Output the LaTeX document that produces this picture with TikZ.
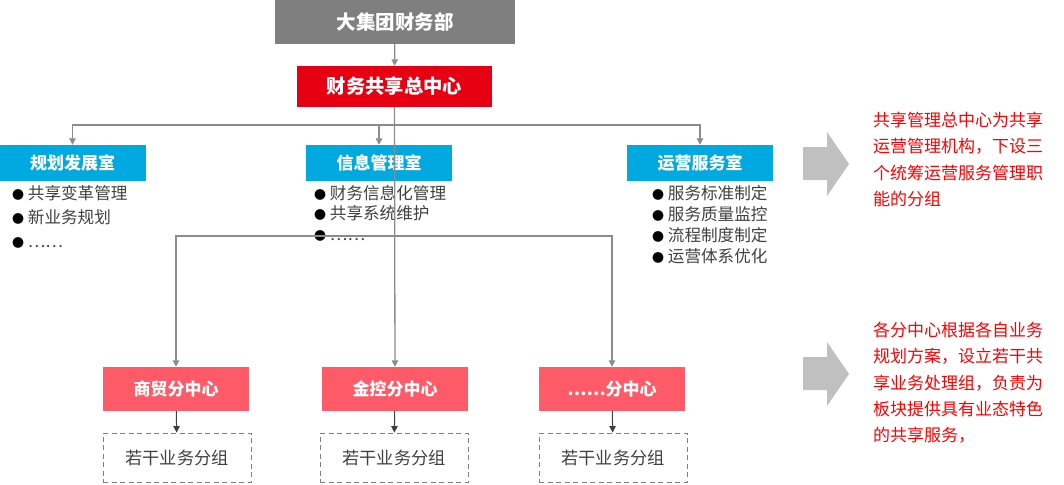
\documentclass[tikz,border=0pt]{standalone}
\usepackage{fontspec}
\setmainfont{Noto Sans CJK SC}
\usetikzlibrary{arrows.meta}

\definecolor{topgray}{HTML}{7F7F7F}
\definecolor{mainred}{HTML}{E60012}
\definecolor{roomblue}{HTML}{00A9E0}
\definecolor{subpink}{HTML}{FF5A68}
\definecolor{linegray}{HTML}{8C8C8C}
\definecolor{textgray}{HTML}{404040}
\definecolor{bigarrow}{HTML}{C0C0C0}
\definecolor{notered}{HTML}{FF0000}

\newcommand{\dutydot}{{\fontsize{12}{12}\selectfont\color{black}●}\ }

\begin{document}
\begin{tikzpicture}[x=1pt, y=-1pt,
    box/.style={inner sep=0pt, text=white, font=\fontsize{17}{18}\selectfont\bfseries},
    room/.style={box, fill=roomblue, minimum width=146pt, minimum height=36pt},
    center/.style={box, fill=subpink, minimum width=146pt, minimum height=44pt},
    group/.style={draw=topgray, dash pattern=on 5pt off 3.5pt, line width=0.9pt, minimum width=148pt,
                  minimum height=49pt, text=textgray, font=\fontsize{17.2}{18}\selectfont},
    duty/.style={anchor=north west, align=left, inner sep=0pt, text=textgray},
    note/.style={anchor=north west, align=left, inner sep=0pt, text=notered,
                 font=\fontsize{17}{26.3}\selectfont},
    edge/.style={draw=linegray, line width=1.3pt, -{Triangle[width=6.5pt,length=6.5pt]}},
    down/.style={draw=textgray, line width=1pt, -{Triangle[width=6.5pt,length=6.5pt]}}
]
\useasboundingbox (0,0) rectangle (1064,484);

% head office and shared centre
\node[box, fill=topgray, minimum width=240pt, minimum height=44pt,
      font=\fontsize{19.5}{20}\selectfont\bfseries] (group) at (395,22) {大集团财务部};
\node[box, fill=mainred, minimum width=195pt, minimum height=41pt,
      font=\fontsize{19.3}{20}\selectfont\bfseries] (zong) at (394.5,86.5) {财务共享总中心};

% three rooms
\node[room] (guihua)  at (72.5,163) {规划发展室};
\node[room] (xinxi)   at (379,163)  {信息管理室};
\node[room] (yunying) at (700,163)  {运营服务室};

\node[duty, font=\fontsize{16.6}{24}\selectfont] (guihualist) at (12,185)
  {\dutydot 共享变革管理\\\dutydot 新业务规划\\\dutydot ……};
\node[duty, font=\fontsize{16.6}{20.5}\selectfont] (xinxilist) at (314,185)
  {\dutydot 财务信息化管理\\\dutydot 共享系统维护\\\dutydot ……};
\node[duty, font=\fontsize{16.6}{21}\selectfont] (yunyinglist) at (652,185)
  {\dutydot 服务标准制定\\\dutydot 服务质量监控\\\dutydot 流程制度制定\\\dutydot 运营体系优化};

% sub centres
\node[center] (shangmao) at (176,389) {商贸分中心};
\node[center] (jinkong)  at (395,389) {金控分中心};
\node[center] (other)    at (612,389) {……分中心};

\node[group] (grp1) at (177,457.5) {若干业务分组};
\node[group] (grp2) at (394,457.5) {若干业务分组};
\node[group] (grp3) at (613,457.5) {若干业务分组};

% connectors
\coordinate (bar1) at (395,125);
\coordinate (bar2) at (395,236);
\draw[edge] (group) -- (zong);
\draw[edge] (zong) -- (jinkong);
\draw[edge] (bar1) -| (guihua);
\draw[edge] (bar1) -| (xinxi);
\draw[edge] (bar1) -| (yunying);
\draw[edge] (bar2) -| (shangmao);
\draw[edge] (bar2) -| (other);
\draw[down] (shangmao) -- (grp1);
\draw[down] (jinkong) -- (grp2);
\draw[down] (other) -- (grp3);

% side arrows and notes
\foreach \dy in {0,210}
  \fill[bigarrow, yshift=-\dy pt] (803,147) -- (827,147) -- (827,132) -- (849,164)
       -- (827,196) -- (827,180) -- (803,180) -- cycle;

\node[note] (note1) at (873,112)
  {共享管理总中心为共享\\运营管理机构，下设三\\个统筹运营服务管理职\\能的分组};
\node[note] (note2) at (873,322)
  {各分中心根据各自业务\\规划方案，设立若干共\\享业务处理组，负责为\\板块提供具有业态特色\\的共享服务，};
\end{tikzpicture}
\end{document}
